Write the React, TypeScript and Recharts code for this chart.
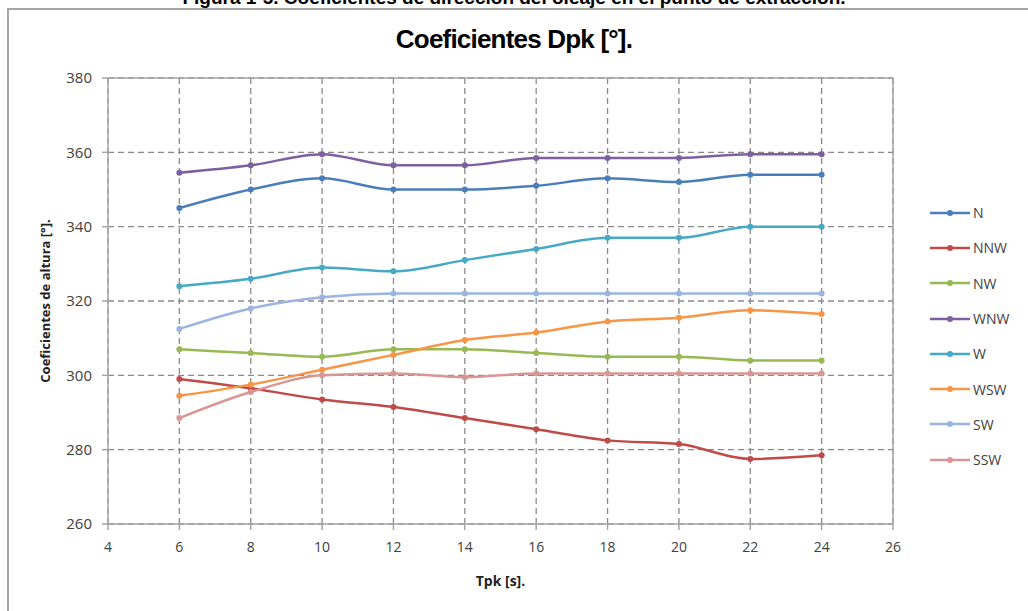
import { CartesianGrid, Label, Line, LineChart, ReferenceLine, XAxis, YAxis } from "recharts";

const tpk = [6, 8, 10, 12, 14, 16, 18, 20, 22, 24];

const nValues = [345, 350, 353, 350, 350, 351, 353, 352, 354, 354];
const nnwValues = [299, 296.5, 293.5, 291.5, 288.5, 285.5, 282.5, 281.5, 277.5, 278.5];
const nwValues = [307, 306, 305, 307, 307, 306, 305, 305, 304, 304];
const wnwValues = [354.5, 356.5, 359.5, 356.5, 356.5, 358.5, 358.5, 358.5, 359.5, 359.5];
const wValues = [324, 326, 329, 328, 331, 334, 337, 337, 340, 340];
const wswValues = [294.5, 297.5, 301.5, 305.5, 309.5, 311.5, 314.5, 315.5, 317.5, 316.5];
const swValues = [312.5, 318, 321, 322, 322, 322, 322, 322, 322, 322];
const sswValues = [288.5, 295.5, 300, 300.5, 299.5, 300.5, 300.5, 300.5, 300.5, 300.5];

const xTicks = [4, 6, 8, 10, 12, 14, 16, 18, 20, 22, 24, 26];
const yTicks = [260, 280, 300, 320, 340, 360, 380];

const series = [
  { key: "N", values: nValues, color: "#4A7EBB" },
  { key: "NNW", values: nnwValues, color: "#BE4B48" },
  { key: "NW", values: nwValues, color: "#98B954" },
  { key: "WNW", values: wnwValues, color: "#7D60A0" },
  { key: "W", values: wValues, color: "#46AAC5" },
  { key: "WSW", values: wswValues, color: "#F79646" },
  { key: "SW", values: swValues, color: "#9BB5E0" },
  { key: "SSW", values: sswValues, color: "#D99694" },
];

const data = tpk.map((t, i) => {
  const row: Record<string, number> = { tpk: t };
  series.forEach((s) => {
    row[s.key] = s.values[i];
  });
  return row;
});

function LegendBox() {
  return (
    <div style={{ position: "absolute", left: 930, top: 195, fontFamily: "'Open Sans', sans-serif", fontSize: 14, color: "#404040" }}>
      {series.map((s) => (
        <div key={s.key} style={{ display: "flex", alignItems: "center", height: 35.3 }}>
          <svg width={40} height={10} style={{ marginRight: 3 }}>
            <line x1={0} y1={5} x2={40} y2={5} stroke={s.color} strokeWidth={2.5} />
            <circle cx={20} cy={5} r={3} fill={s.color} />
          </svg>
          <span>{s.key}</span>
        </div>
      ))}
    </div>
  );
}

export default function App() {
  return (
    <div style={{ position: "absolute", left: 0, top: 0, width: 1028, height: 611, overflow: "hidden", background: "#fff" }}>
      <div
        style={{
          position: "absolute",
          left: 0,
          right: 0,
          top: -13,
          textAlign: "center",
          fontFamily: "'Liberation Sans', Arial, sans-serif",
          fontWeight: "bold",
          fontSize: 19,
          color: "#000",
        }}
      >
        Figura 1-5. Coeficientes de dirección del oleaje en el punto de extracción.
      </div>
      <div style={{ position: "absolute", left: 7, top: 8, width: 1040, height: 620, borderLeft: "2px solid #a6a6a6", borderTop: "2px solid #a6a6a6" }} />
      <div
        style={{
          position: "absolute",
          left: 0,
          width: 1028,
          top: 24,
          textAlign: "center",
          fontFamily: "'Liberation Sans Narrow', 'Liberation Sans', Arial, sans-serif",
          fontWeight: "bold",
          fontSize: 26,
          letterSpacing: -0.8,
          color: "#000",
        }}
      >
        Coeficientes Dpk [°].
      </div>
      <div style={{ position: "absolute", left: 0, top: 0 }}>
        <LineChart width={1028} height={611} data={data} margin={{ top: 78, right: 135, bottom: 7, left: 48 }}>
          <CartesianGrid stroke="#8a8a8a" strokeDasharray="6 4" strokeWidth={1.3} verticalValues={xTicks} horizontalValues={yTicks} />
          <ReferenceLine y={380} stroke="#a6a6a6" strokeWidth={1.5} />
          <ReferenceLine x={26} stroke="#a6a6a6" strokeWidth={1.5} />
          <XAxis
            dataKey="tpk"
            type="number"
            domain={[4, 26]}
            ticks={xTicks}
            interval={0}
            stroke="#a6a6a6"
            strokeWidth={1.5}
            tickSize={6}
            tickMargin={12}
            tick={{ fill: "#404040", fontSize: 14, fontFamily: "'Liberation Sans Narrow', 'Open Sans', sans-serif" }}
            height={80}
          >
            <Label value="Tpk [s]." position="insideBottom" offset={18} style={{ fill: "#222", fontSize: 14, fontWeight: "bold", fontFamily: "'Open Sans', sans-serif" }} />
          </XAxis>
          <YAxis
            type="number"
            domain={[260, 380]}
            ticks={yTicks}
            interval={0}
            stroke="#a6a6a6"
            strokeWidth={1.5}
            tickSize={6}
            tickMargin={10}
            width={60}
            tick={{ fill: "#404040", fontSize: 15, fontFamily: "'Open Sans', sans-serif" }}
          >
            <Label
              value="Coeficientes de altura [°]."
              angle={-90}
              position="insideLeft"
              offset={-3}
              style={{ textAnchor: "middle", fill: "#222", fontSize: 13, fontWeight: "bold", fontFamily: "'Open Sans', sans-serif" }}
            />
          </YAxis>
          {series.map((s) => (
            <Line
              key={s.key}
              dataKey={s.key}
              type="monotone"
              stroke={s.color}
              strokeWidth={2.5}
              dot={{ r: 3, fill: s.color, stroke: s.color, strokeWidth: 0 }}
              activeDot={false}
              isAnimationActive={false}
            />
          ))}
        </LineChart>
      </div>
      <LegendBox />
    </div>
  );
}
